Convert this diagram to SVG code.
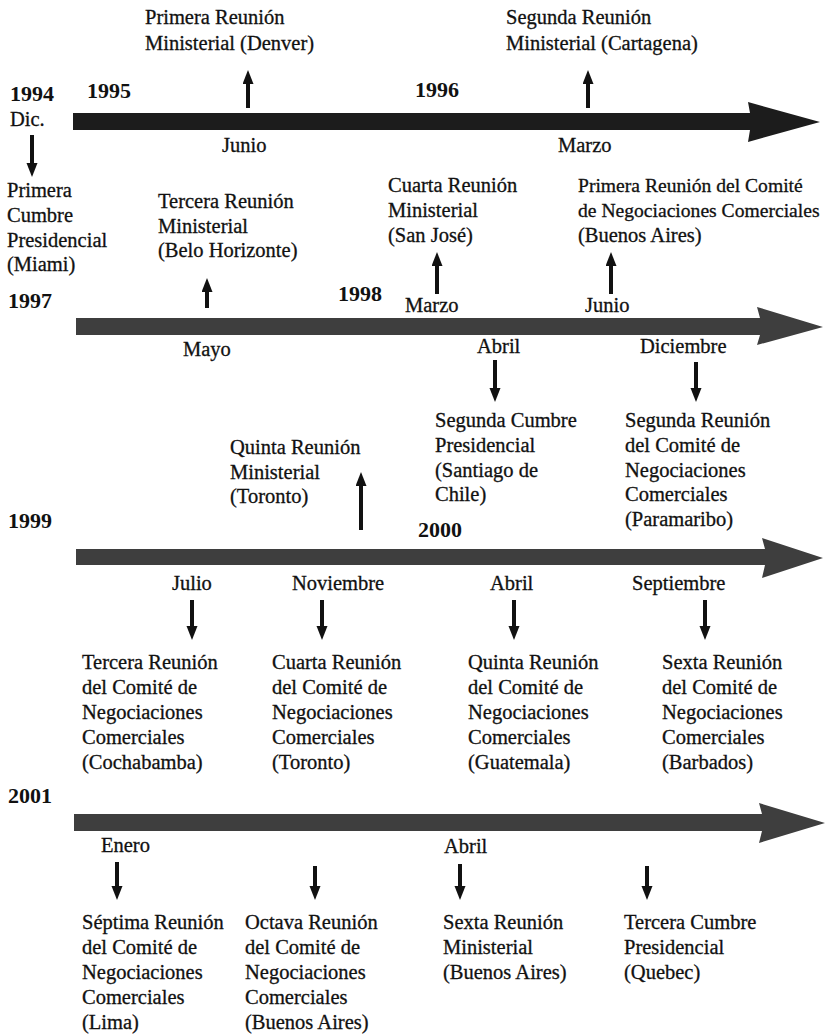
<svg xmlns="http://www.w3.org/2000/svg" width="825" height="1035" viewBox="0 0 825 1035">
<defs>
<marker id="ah" markerUnits="userSpaceOnUse" markerWidth="15" markerHeight="12" refX="6" refY="5.5" orient="auto">
<path d="M0,0 L14,5.5 L0,11 z" fill="#111"/>
</marker>
<style>
.t{font-family:"Liberation Serif","Times New Roman",serif;font-size:20.5px;fill:#111;stroke:#111;stroke-width:0.3}
.n{font-size:19.6px}
.y{font-family:"Liberation Serif","Times New Roman",serif;font-size:22px;font-weight:bold;fill:#111}
.sa{stroke:#111;stroke-width:4;fill:none;marker-end:url(#ah)}
.b1{fill:#1c1c1c}
.b2{fill:#3e3e3e}
</style>
</defs>
<rect width="825" height="1035" fill="#fff"/>

<g id="timelines">
<polygon class="b1" points="73,113 750,113 748,102 820,122 748,142 750,130 73,130"/>
<polygon class="b2" points="76,318 760,318 757,307 823,327 757,345 760,335 76,335"/>
<polygon class="b2" points="76,549 765,549 762,538 823,558 762,578 765,565 76,565"/>
<polygon class="b2" points="74,814 762,814 759,803 825,823 759,843 762,831 74,831"/>
</g>

<g id="connectors">
<line class="sa" x1="248" y1="108" x2="248" y2="78"/>
<line class="sa" x1="588" y1="108" x2="588" y2="78"/>
<line class="sa" x1="32" y1="135" x2="32" y2="169"/>
<line class="sa" x1="207" y1="308" x2="207" y2="286"/>
<line class="sa" x1="437" y1="294" x2="437" y2="260"/>
<line class="sa" x1="611" y1="294" x2="611" y2="260"/>
<line class="sa" x1="495" y1="360" x2="495" y2="394"/>
<line class="sa" x1="696" y1="362" x2="696" y2="394"/>
<line class="sa" x1="361" y1="530" x2="361" y2="480"/>
<line class="sa" x1="192" y1="600" x2="192" y2="632"/>
<line class="sa" x1="322" y1="600" x2="322" y2="632"/>
<line class="sa" x1="514" y1="600" x2="514" y2="632"/>
<line class="sa" x1="705" y1="600" x2="705" y2="632"/>
<line class="sa" x1="117" y1="862" x2="117" y2="892"/>
<line class="sa" x1="315" y1="866" x2="315" y2="892"/>
<line class="sa" x1="460" y1="864" x2="460" y2="892"/>
<line class="sa" x1="647" y1="866" x2="647" y2="892"/>
</g>

<g id="years">
<text class="y" x="10" y="101">1994</text>
<text class="t" x="10" y="126">Dic.</text>
<text class="y" x="87" y="98">1995</text>
<text class="y" x="415" y="97">1996</text>
<text class="y" x="8" y="308">1997</text>
<text class="y" x="338" y="301">1998</text>
<text class="y" x="8" y="528">1999</text>
<text class="y" x="418" y="537">2000</text>
<text class="y" x="8" y="803">2001</text>
</g>

<g id="months">
<text class="t" x="222" y="152">Junio</text>
<text class="t" x="558" y="152">Marzo</text>
<text class="t" x="405" y="312">Marzo</text>
<text class="t" x="585" y="312">Junio</text>
<text class="t" x="183" y="356">Mayo</text>
<text class="t" x="477" y="353">Abril</text>
<text class="t" x="640" y="353">Diciembre</text>
<text class="t" x="172" y="590">Julio</text>
<text class="t" x="292" y="590">Noviembre</text>
<text class="t" x="490" y="590">Abril</text>
<text class="t" x="632" y="590">Septiembre</text>
<text class="t" x="101" y="852">Enero</text>
<text class="t" x="444" y="853">Abril</text>
</g>

<g id="ev-denver"><text class="t" x="145" y="24">Primera Reunión</text><text class="t" x="145" y="50">Ministerial (Denver)</text></g>
<g id="ev-cartagena"><text class="t" x="506" y="24">Segunda Reunión</text><text class="t" x="506" y="50">Ministerial (Cartagena)</text></g>
<g id="ev-miami"><text class="t" x="7" y="197">Primera</text><text class="t" x="7" y="222">Cumbre</text><text class="t" x="7" y="247">Presidencial</text><text class="t" x="7" y="271">(Miami)</text></g>
<g id="ev-belo"><text class="t" x="158" y="208">Tercera Reunión</text><text class="t" x="158" y="233">Ministerial</text><text class="t" x="158" y="257">(Belo Horizonte)</text></g>
<g id="ev-sanjose"><text class="t" x="388" y="192">Cuarta Reunión</text><text class="t" x="388" y="217">Ministerial</text><text class="t" x="388" y="242">(San José)</text></g>
<g id="ev-cnc1"><text class="t n" x="578" y="192">Primera Reunión del Comité</text><text class="t n" x="578" y="217">de Negociaciones Comerciales</text><text class="t" x="578" y="242">(Buenos Aires)</text></g>
<g id="ev-santiago"><text class="t" x="435" y="427">Segunda Cumbre</text><text class="t" x="435" y="452">Presidencial</text><text class="t" x="435" y="477">(Santiago de</text><text class="t" x="435" y="501">Chile)</text></g>
<g id="ev-cnc2"><text class="t" x="625" y="427">Segunda Reunión</text><text class="t" x="625" y="452">del Comité de</text><text class="t" x="625" y="477">Negociaciones</text><text class="t" x="625" y="501">Comerciales</text><text class="t" x="625" y="526">(Paramaribo)</text></g>
<g id="ev-toronto-min"><text class="t" x="230" y="454">Quinta Reunión</text><text class="t" x="230" y="479">Ministerial</text><text class="t" x="230" y="503">(Toronto)</text></g>
<g id="ev-cnc3"><text class="t" x="82" y="669">Tercera Reunión</text><text class="t" x="82" y="694">del Comité de</text><text class="t" x="82" y="719">Negociaciones</text><text class="t" x="82" y="744">Comerciales</text><text class="t" x="82" y="769">(Cochabamba)</text></g>
<g id="ev-cnc4"><text class="t" x="272" y="669">Cuarta Reunión</text><text class="t" x="272" y="694">del Comité de</text><text class="t" x="272" y="719">Negociaciones</text><text class="t" x="272" y="744">Comerciales</text><text class="t" x="272" y="769">(Toronto)</text></g>
<g id="ev-cnc5"><text class="t" x="468" y="669">Quinta Reunión</text><text class="t" x="468" y="694">del Comité de</text><text class="t" x="468" y="719">Negociaciones</text><text class="t" x="468" y="744">Comerciales</text><text class="t" x="468" y="769">(Guatemala)</text></g>
<g id="ev-cnc6"><text class="t" x="662" y="669">Sexta Reunión</text><text class="t" x="662" y="694">del Comité de</text><text class="t" x="662" y="719">Negociaciones</text><text class="t" x="662" y="744">Comerciales</text><text class="t" x="662" y="769">(Barbados)</text></g>
<g id="ev-cnc7"><text class="t" x="82" y="929">Séptima Reunión</text><text class="t" x="82" y="954">del Comité de</text><text class="t" x="82" y="979">Negociaciones</text><text class="t" x="82" y="1004">Comerciales</text><text class="t" x="82" y="1029">(Lima)</text></g>
<g id="ev-cnc8"><text class="t" x="245" y="929">Octava Reunión</text><text class="t" x="245" y="954">del Comité de</text><text class="t" x="245" y="979">Negociaciones</text><text class="t" x="245" y="1004">Comerciales</text><text class="t" x="245" y="1029">(Buenos Aires)</text></g>
<g id="ev-baires-min"><text class="t" x="443" y="929">Sexta Reunión</text><text class="t" x="443" y="954">Ministerial</text><text class="t" x="443" y="979">(Buenos Aires)</text></g>
<g id="ev-quebec"><text class="t" x="624" y="929">Tercera Cumbre</text><text class="t" x="624" y="954">Presidencial</text><text class="t" x="624" y="979">(Quebec)</text></g>
</svg>
